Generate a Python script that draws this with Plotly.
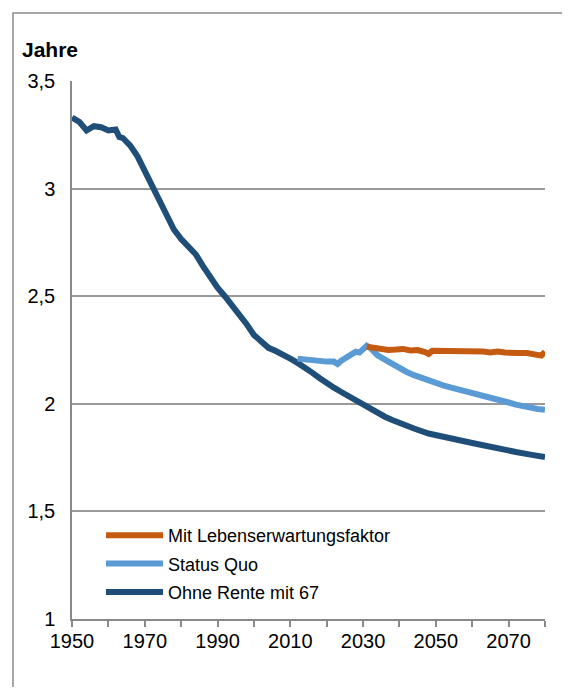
import plotly.graph_objects as go

# Ohne Rente mit 67
years_ohne = [1950, 1952, 1954, 1956, 1958, 1960, 1962, 1963, 1964, 1966, 1968, 1970, 1972, 1974,
              1976, 1978, 1980, 1982, 1984, 1986, 1988, 1990, 1992, 1994, 1996, 1998, 2000, 2002,
              2004, 2006, 2008, 2010, 2012, 2014, 2016, 2018, 2020, 2022, 2024, 2026, 2028, 2030,
              2032, 2034, 2036, 2038, 2040, 2044, 2048, 2052, 2056, 2060, 2064, 2068, 2072, 2076, 2080]
vals_ohne = [3.33, 3.31, 3.27, 3.29, 3.285, 3.27, 3.275, 3.24, 3.235, 3.20, 3.15, 3.08, 3.02, 2.95,
             2.87, 2.81, 2.765, 2.725, 2.695, 2.64, 2.585, 2.54, 2.50, 2.46, 2.42, 2.37, 2.32, 2.285,
             2.26, 2.245, 2.23, 2.21, 2.19, 2.17, 2.145, 2.12, 2.095, 2.075, 2.055, 2.035, 2.015, 1.995,
             1.975, 1.955, 1.94, 1.925, 1.91, 1.885, 1.862, 1.845, 1.83, 1.818, 1.804, 1.788, 1.776, 1.764, 1.752]

# Status Quo
years_sq = [2012, 2014, 2016, 2018, 2020, 2022, 2023, 2024, 2026, 2028, 2029, 2030, 2031, 2032, 2034,
            2036, 2038, 2040, 2042, 2044, 2046, 2048, 2050, 2052, 2054, 2056, 2058, 2060, 2062, 2064,
            2066, 2068, 2070, 2072, 2074, 2076, 2078, 2080]
vals_sq = [2.21, 2.205, 2.20, 2.197, 2.196, 2.196, 2.185, 2.20, 2.22, 2.242, 2.238, 2.255, 2.27, 2.26, 2.225,
           2.205, 2.185, 2.165, 2.148, 2.133, 2.12, 2.107, 2.096, 2.086, 2.076, 2.068, 2.06, 2.052, 2.044, 2.036,
           2.026, 2.016, 2.006, 1.996, 1.988, 1.982, 1.976, 1.972]

# Mit Lebenserwartungsfaktor
years_mit = [2031, 2033, 2035, 2037, 2039, 2041, 2043, 2045, 2047, 2048, 2049, 2051, 2053, 2055, 2057,
             2059, 2061, 2063, 2065, 2067, 2069, 2071, 2073, 2075, 2077, 2079, 2080]
vals_mit = [2.265, 2.258, 2.258, 2.25, 2.252, 2.255, 2.248, 2.25, 2.24, 2.232, 2.246, 2.246, 2.244, 2.247, 2.243,
            2.246, 2.24, 2.243, 2.239, 2.243, 2.238, 2.240, 2.236, 2.236, 2.228, 2.224, 2.242]

x_tickvals = [1950, 1970, 1990, 2010, 2030, 2050, 2070]
y_tickvals = [1, 1.5, 2, 2.5, 3, 3.5]
y_ticktext = ["1", "1,5", "2", "2,5", "3", "3,5"]

OFF = 8  # default page body margin
W, H = 554, 679
# desired screen positions of the plot area
SL, SR, ST, SB = 72, 545, 81, 619
L, R = SL - OFF, W - (SR - OFF)
T, B = ST - OFF, H - (SB - OFF)


def px_x(p):
    return (p - SL) / (SR - SL)


def px_y(p):
    return (SB - p) / (SB - ST)


fig = go.Figure()
fig.add_trace(go.Scatter(x=years_ohne, y=vals_ohne, mode="lines", name="Ohne Rente mit 67",
                         legendgroup="c", legendrank=3, line=dict(color="#1F4E79", width=6)))
fig.add_trace(go.Scatter(x=years_sq, y=vals_sq, mode="lines", name="Status Quo",
                         legendgroup="b", legendrank=2, line=dict(color="#5B9BD5", width=6)))
fig.add_trace(go.Scatter(x=years_mit, y=vals_mit, mode="lines", name="Mit Lebenserwartungsfaktor",
                         legendgroup="a", legendrank=1, line=dict(color="#C55A11", width=6)))

fig.update_layout(
    width=W, height=H,
    margin=dict(l=L, r=R, t=T, b=B, pad=0),
    paper_bgcolor="white", plot_bgcolor="white",
    separators=",.",
    font=dict(family="Liberation Sans, Arial, sans-serif", size=20, color="#000000"),
    showlegend=True,
    legend=dict(x=px_x(101), y=px_y(517), xanchor="left", yanchor="top",
                traceorder="grouped", tracegroupgap=2, itemwidth=57,
                font=dict(size=18, color="#000000"), bgcolor="rgba(0,0,0,0)"),
    xaxis=dict(range=[1950, 2080], tickvals=x_tickvals, ticks="outside", ticklen=6,
               tickcolor="#898989", tickwidth=1.5, showgrid=False, zeroline=False,
               showline=True, linecolor="#898989", linewidth=1.5,
               minor=dict(dtick=10, tick0=1950, ticks="outside", ticklen=6,
                          tickcolor="#898989", tickwidth=1.5, showgrid=False),
               ticklabelstandoff=-3, tickfont=dict(size=20)),
    yaxis=dict(range=[1, 3.5], tickvals=y_tickvals, ticktext=y_ticktext, ticks="",
               showgrid=True, gridcolor="#999999", gridwidth=1.5, zeroline=False,
               showline=True, linecolor="#898989", linewidth=1.5,
               ticklabelstandoff=11, tickfont=dict(size=20)),
    annotations=[dict(text="<b>Jahre</b>", xref="paper", yref="paper",
                      x=px_x(20), y=px_y(50), xanchor="left", yanchor="middle",
                      showarrow=False, font=dict(size=21, color="#000000"))],
    shapes=[dict(type="rect", xref="paper", yref="paper",
                 x0=px_x(13), x1=px_x(600), y0=px_y(760), y1=px_y(13),
                 line=dict(color="#8C8C8C", width=1.5), layer="below")],
)

fig.write_html("out.html")
